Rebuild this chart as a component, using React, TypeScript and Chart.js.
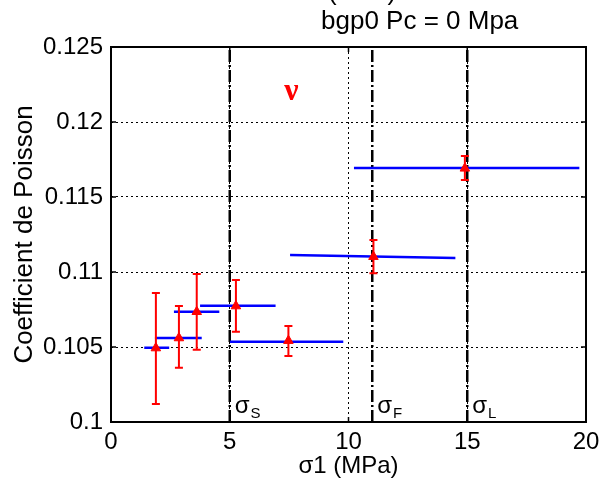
import React, { useEffect, useRef } from 'react';
import { Chart, registerables } from 'chart.js';

Chart.register(...registerables);

// ---- data ----
const xTickValues = [0, 5, 10, 15, 20];
const yTickLabels = ['0.1', '0.105', '0.11', '0.115', '0.12', '0.125'];

const pointX = [1.89, 2.86, 3.61, 5.26, 7.47, 11.05, 14.9];
const pointY = [0.10493, 0.1056, 0.10735, 0.10773, 0.10542, 0.11102, 0.11691];
const errUpper = [0.1086, 0.10773, 0.10987, 0.10947, 0.1064, 0.11213, 0.11773];
const errLower = [0.1012, 0.10362, 0.10482, 0.10602, 0.1044, 0.10991, 0.11613];

const segX0 = [1.4, 1.85, 2.65, 3.75, 5.01, 7.54, 10.23];
const segX1 = [2.45, 3.82, 4.56, 6.93, 9.78, 14.5, 19.72];
const segY0 = [0.10495, 0.1056, 0.10735, 0.10775, 0.10535, 0.11113, 0.11693];
const segY1 = [0.10495, 0.1056, 0.10735, 0.10775, 0.10535, 0.11093, 0.11693];

const thresholdX = [5, 11, 15];
const thresholdSub = ['S', 'F', 'L'];

const titleLines = ['(ν σ1)', 'bgp0 Pc = 0 Mpa'];
const xTitle = 'σ1 (MPa)';
const yTitle = 'Coefficient de Poisson';
const nuLabel = 'ν';
const nuPos = { x: 7.6, y: 0.12202 };

const FONT = "'Liberation Sans', Arial, sans-serif";

const decorPlugin = {
  id: 'decor',
  beforeDatasetDraw(chart: any, args: any) {
    if (args.index !== 0) return;
    const { ctx } = chart;
    const x = chart.scales.x;
    const y = chart.scales.y;
    ctx.save();
    ctx.strokeStyle = '#ff0000';
    ctx.lineWidth = 2;
    pointX.forEach((px, i) => {
      const cx = x.getPixelForValue(px);
      const yt = y.getPixelForValue(errUpper[i]);
      const yb = y.getPixelForValue(errLower[i]);
      ctx.beginPath();
      ctx.moveTo(cx, yt);
      ctx.lineTo(cx, yb);
      ctx.moveTo(cx - 4, yt);
      ctx.lineTo(cx + 4, yt);
      ctx.moveTo(cx - 4, yb);
      ctx.lineTo(cx + 4, yb);
      ctx.stroke();
    });
    ctx.restore();
  },
  afterDatasetsDraw(chart: any) {
    const { ctx, chartArea } = chart;
    const { left, right, top, bottom } = chartArea;
    const x = chart.scales.x;
    const y = chart.scales.y;
    ctx.save();
    // frame
    ctx.strokeStyle = '#000';
    ctx.lineWidth = 2;
    ctx.strokeRect(left, top, right - left, bottom - top);
    // inward ticks
    ctx.lineWidth = 1.5;
    ctx.beginPath();
    xTickValues.forEach((v) => {
      const px = x.getPixelForValue(v);
      ctx.moveTo(px, bottom);
      ctx.lineTo(px, bottom - 5);
      ctx.moveTo(px, top);
      ctx.lineTo(px, top + 5);
    });
    yTickLabels.forEach((l) => {
      const py = y.getPixelForValue(parseFloat(l));
      ctx.moveTo(left, py);
      ctx.lineTo(left + 5, py);
      ctx.moveTo(right, py);
      ctx.lineTo(right - 5, py);
    });
    ctx.stroke();

    // sigma labels
    ctx.fillStyle = '#000';
    ctx.textAlign = 'left';
    ctx.textBaseline = 'alphabetic';
    thresholdX.forEach((t, i) => {
      const px = x.getPixelForValue(t) + 5;
      ctx.font = `24px ${FONT}`;
      ctx.fillText('σ', px, bottom - 9);
      const w = ctx.measureText('σ').width;
      ctx.font = `15px ${FONT}`;
      ctx.fillText(thresholdSub[i], px + w + 1, bottom - 4);
    });

    // nu label
    ctx.fillStyle = '#ff0000';
    ctx.font = `bold 32px 'Liberation Serif', 'Times New Roman', serif`;
    ctx.textAlign = 'center';
    ctx.textBaseline = 'middle';
    ctx.fillText(nuLabel, x.getPixelForValue(nuPos.x), y.getPixelForValue(nuPos.y));
    ctx.restore();
  },
  afterDraw(chart: any) {
    const { ctx } = chart;
    ctx.save();
    ctx.fillStyle = '#000';
    ctx.font = `26px ${FONT}`;
    ctx.textAlign = 'left';
    ctx.textBaseline = 'alphabetic';
    ctx.fillText(titleLines[0], 328, 0);
    ctx.fillText(titleLines[1], 321, 29);
    ctx.restore();
  },
};

export default function App() {
  const canvasRef = useRef<HTMLCanvasElement | null>(null);

  useEffect(() => {
    document.body.style.margin = '0';
    const canvas = canvasRef.current;
    if (!canvas) return;

    const datasets: any[] = [];
    datasets.push({
      label: 'nu',
      data: pointX.map((px, i) => ({ x: px, y: pointY[i] })),
      pointStyle: 'triangle',
      pointRadius: 5.5,
      backgroundColor: '#ff0000',
      borderColor: '#ff0000',
      borderWidth: 1,
      showLine: false,
      order: 0,
    });
    segX0.forEach((sx, i) => {
      datasets.push({
        label: 'seg' + i,
        data: [
          { x: sx, y: segY0[i] },
          { x: segX1[i], y: segY1[i] },
        ],
        showLine: true,
        borderColor: '#0000ff',
        borderWidth: 2.5,
        pointRadius: 0,
        fill: false,
        order: 1,
      });
    });
    thresholdX.forEach((t, i) => {
      datasets.push({
        label: 'thr' + i,
        data: [
          { x: t, y: 0.1 },
          { x: t, y: 0.125 },
        ],
        showLine: true,
        borderColor: '#000000',
        borderWidth: 2.5,
        borderDash: [12, 3, 2, 3],
        pointRadius: 0,
        fill: false,
        order: 2,
      });
    });

    const chart = new Chart(canvas, {
      type: 'scatter',
      data: { datasets },
      options: {
        animation: false,
        responsive: false,
        devicePixelRatio: 1,
        layout: { padding: { top: 47, right: 21, left: 0, bottom: 0 } },
        plugins: {
          legend: { display: false },
          tooltip: { enabled: false },
          title: { display: false },
        },
        scales: {
          x: {
            type: 'linear',
            min: 0,
            max: 20,
            afterFit: (s: any) => {
              s.height = 66;
            },
            afterBuildTicks: (s: any) => {
              s.ticks = xTickValues.map((v) => ({ value: v }));
            },
            ticks: {
              color: '#000',
              font: { family: FONT, size: 24 },
              padding: 6,
              maxRotation: 0,
              callback: (v: any) => String(v),
            },
            grid: { color: '#000', lineWidth: 1, drawTicks: false },
            border: { display: false, dash: [2, 3] },
            title: {
              display: true,
              text: xTitle,
              color: '#000',
              font: { family: FONT, size: 24 },
              padding: { top: 0, bottom: 7 },
            },
          },
          y: {
            type: 'linear',
            min: 0.1,
            max: 0.125,
            afterFit: (s: any) => {
              s.width = 111;
            },
            afterBuildTicks: (s: any) => {
              s.ticks = yTickLabels.map((l) => ({ value: parseFloat(l) }));
            },
            ticks: {
              color: '#000',
              font: { family: FONT, size: 24 },
              padding: 8,
              callback: (v: any) => {
                const f = yTickLabels.find((l) => Math.abs(parseFloat(l) - v) < 1e-9);
                return f ?? '';
              },
            },
            grid: { color: '#000', lineWidth: 1, drawTicks: false },
            border: { display: false, dash: [2, 3] },
            title: {
              display: true,
              text: yTitle,
              color: '#000',
              font: { family: FONT, size: 26 },
              padding: { top: 9, bottom: 0 },
            },
          },
        },
      },
      plugins: [decorPlugin],
    } as any);

    return () => {
      chart.destroy();
    };
  }, []);

  return (
    <div style={{ width: 607, height: 488 }}>
      <canvas ref={canvasRef} width={607} height={488} style={{ display: 'block' }} />
    </div>
  );
}
